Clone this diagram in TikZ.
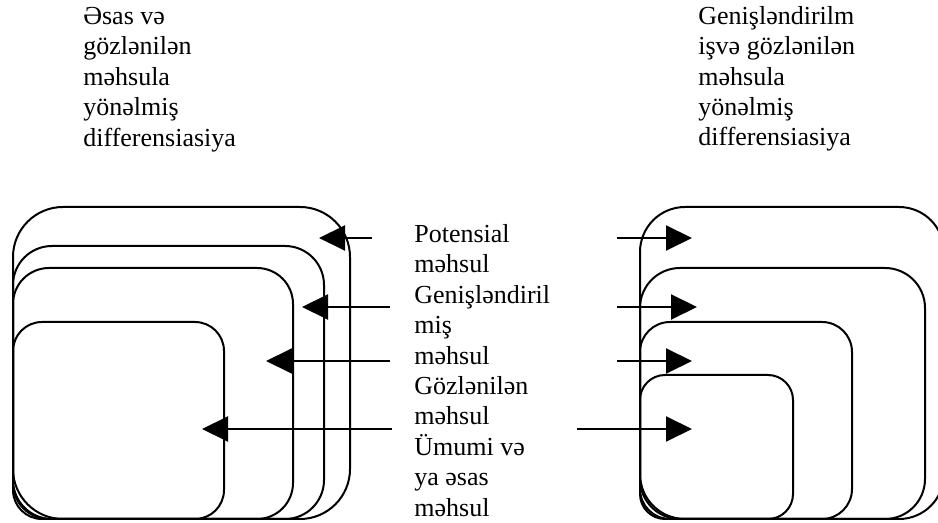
\documentclass[tikz,border=0pt]{standalone}
\usepackage{fontspec}
\setmainfont{Liberation Serif}
\usetikzlibrary{arrows.meta}

\begin{document}
\begin{tikzpicture}[
  layer/.style={draw,line width=.04cm,inner sep=0,anchor=south west},
  lbl/.style={inner sep=0,anchor=north west,align=left,font=\fontsize{14.8}{17.3}\selectfont},
  pointer/.style={-{Triangle[length=.52cm,width=.5cm]},line width=.04cm}
]
\useasboundingbox (0,0) rectangle (18.76cm,-10.46cm);

% headings
\node (headL) at(1.66cm,-.14cm) [lbl]{Əsas və\\gözlənilən\\məhsula\\yönəlmiş\\differensiasiya};
\node (headR) at(13.96cm,-.12cm) [lbl]{Genişləndirilm\\işvə gözlənilən\\məhsula\\yönəlmiş\\differensiasiya};

% left set of layers
\node (potL) at(.24cm,-10.4cm) [layer,rounded corners=1cm,minimum width=6.74cm,minimum height=6.24cm]{};
\node (genL) at(.24cm,-10.4cm) [layer,rounded corners=.78cm,minimum width=6.22cm,minimum height=5.46cm]{};
\node (gozL) at(.24cm,-10.4cm) [layer,rounded corners=.72cm,minimum width=5.6cm,minimum height=5.02cm]{};
\node (umL) at(.24cm,-10.4cm) [layer,rounded corners=.58cm,minimum width=4.22cm,minimum height=3.94cm]{};

% right set of layers
\node (potR) at(12.78cm,-10.4cm) [layer,rounded corners=.9cm,minimum width=6.08cm,minimum height=6.24cm]{};
\node (genR) at(12.78cm,-10.4cm) [layer,rounded corners=.8cm,minimum width=5.7cm,minimum height=5.02cm]{};
\node (gozR) at(12.78cm,-10.4cm) [layer,rounded corners=.6cm,minimum width=4.24cm,minimum height=3.94cm]{};
\node (umR) at(12.78cm,-10.4cm) [layer,rounded corners=.5cm,minimum width=3.06cm,minimum height=2.88cm]{};

% names of the layers
\node (names) at(8.28cm,-4.48cm) [lbl]{Potensial\\məhsul\\Genişləndiril\\miş\\məhsul\\Gözlənilən\\məhsul\\Ümumi və\\ya əsas\\məhsul};

% arrow ends
\coordinate (aL1) at(7.44cm,-4.76cm);  \coordinate (tL1) at(6.38cm,-4.76cm);
\coordinate (aL2) at(7.8cm,-6.14cm);   \coordinate (tL2) at(6.04cm,-6.14cm);
\coordinate (aL3) at(7.8cm,-7.22cm);   \coordinate (tL3) at(5.32cm,-7.22cm);
\coordinate (aL4) at(7.84cm,-8.58cm);  \coordinate (tL4) at(4.04cm,-8.58cm);

\coordinate (aR1) at(12.34cm,-4.76cm); \coordinate (tR1) at(13.84cm,-4.76cm);
\coordinate (aR2) at(12.34cm,-6.14cm); \coordinate (tR2) at(13.94cm,-6.14cm);
\coordinate (aR3) at(12.34cm,-7.22cm); \coordinate (tR3) at(13.84cm,-7.22cm);
\coordinate (aR4) at(11.54cm,-8.58cm); \coordinate (tR4) at(13.84cm,-8.58cm);

\draw [pointer] (aL1) -- (tL1);
\draw [pointer] (aL2) -- (tL2);
\draw [pointer] (aL3) -- (tL3);
\draw [pointer] (aL4) -- (tL4);

\draw [pointer] (aR1) -- (tR1);
\draw [pointer] (aR2) -- (tR2);
\draw [pointer] (aR3) -- (tR3);
\draw [pointer] (aR4) -- (tR4);

\end{tikzpicture}
\end{document}
